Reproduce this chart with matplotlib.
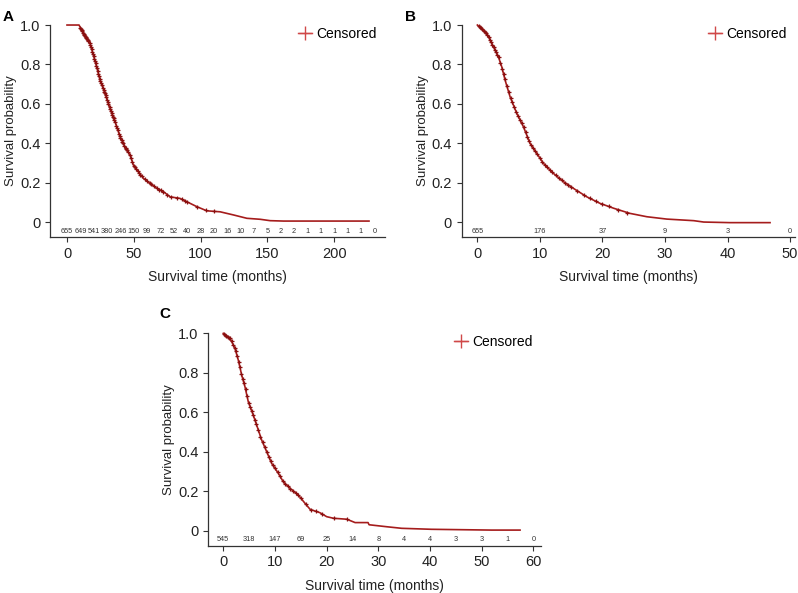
import numpy as np
import matplotlib
matplotlib.use("Agg")
import matplotlib.pyplot as plt
from matplotlib.lines import Line2D

plt.rcParams['font.family'] = ['Liberation Sans', 'DejaVu Sans']

RED = '#a51c1c'

# ---- panel A (curve knots) ----
a_time = [0, 9, 12.2, 17.2, 19.7, 22.2, 24.7, 28.5, 30.9, 33.5, 36, 39.7, 43.4, 47.2, 49.7,
          53.4, 57.2, 62.2, 67.2, 72.2, 77.2, 84.6, 89.7, 97.2, 104.6, 114.6, 124.6, 134.6,
          144.6, 152, 162, 226]
a_surv = [1.0, 1.0, 0.958, 0.907, 0.848, 0.788, 0.721, 0.653, 0.603, 0.552, 0.509, 0.433,
          0.382, 0.340, 0.289, 0.255, 0.222, 0.196, 0.171, 0.154, 0.128, 0.120, 0.103, 0.078,
          0.057, 0.052, 0.036, 0.019, 0.014, 0.007, 0.005, 0.005]
a_cens = [10, 10.5, 11, 11.5, 12, 12.5, 13, 13.5, 14, 14.5, 15, 15.5, 16, 17, 17.5, 18, 18.5,
          19, 19.5, 20, 20.5, 21, 21.5, 22, 22.5, 23, 23.5, 24, 24.5, 25, 25.5, 26, 27, 27.5,
          28, 28.5, 29, 29.5, 30, 30.5, 31, 32, 32.5, 33, 33.5, 34, 34.5, 35, 35.5, 36, 37,
          37.5, 38, 39, 39.5, 40, 41, 41.5, 42, 43, 44, 44.5, 45, 46, 47, 48, 49, 50, 51, 52,
          53, 54, 55, 56, 58, 60, 62, 63, 65, 67, 69, 70, 72, 75, 78, 82, 86, 88, 90, 97,
          104, 110]
a_risk_t = list(range(0, 240, 10))
a_risk_n = [655, 649, 541, 380, 246, 150, 99, 72, 52, 40, 28, 20, 16, 10, 7, 5, 2, 2, 1, 1, 1, 1, 1, 0]

# ---- panel B ----
b_time = [0, 1.5, 2.56, 3.36, 3.9, 4.43, 5.23, 6.3, 7.36, 8.43, 9.5, 10.56, 12.16, 13.76,
          15.36, 17.5, 19.6, 21.8, 24.4, 27.1, 30.3, 34.6, 36.2, 40.4, 46.8]
b_surv = [1.0, 0.958, 0.890, 0.839, 0.788, 0.721, 0.636, 0.552, 0.484, 0.399, 0.349, 0.298,
          0.247, 0.205, 0.171, 0.128, 0.095, 0.070, 0.044, 0.027, 0.015, 0.007, 0.0, -0.003, -0.003]
b_cens = [0.2, 0.4, 0.6, 0.8, 1.0, 1.2, 1.4, 1.6, 1.8, 2.0, 2.2, 2.4, 2.6, 2.8, 3.0, 3.2, 3.4,
          3.7, 4.0, 4.2, 4.4, 4.7, 5.0, 5.3, 5.6, 5.9, 6.2, 6.5, 6.8, 7.1, 7.4, 7.7, 8.0, 8.3,
          8.6, 8.9, 9.2, 9.6, 10, 10.4, 10.8, 11.2, 11.6, 12, 12.5, 13, 13.5, 14, 14.5, 15,
          16, 17, 18, 19, 20, 21, 22.5, 24]
b_risk_t = [0, 10, 20, 30, 40, 50]
b_risk_n = [655, 176, 37, 9, 3, 0]

# ---- panel C ----
c_time = [0, 1.3, 2.26, 2.9, 3.56, 4.2, 4.84, 5.8, 6.46, 7.43, 8.4, 9.36, 10.64, 11.6, 12.9,
          14.5, 15.8, 16.8, 18.7, 20, 21.3, 23.9, 25.5, 28, 28.2, 31.6, 34.5, 40.3, 51.9, 57.4]
c_surv = [1.0, 0.975, 0.924, 0.865, 0.789, 0.729, 0.653, 0.586, 0.535, 0.459, 0.400, 0.341,
          0.291, 0.248, 0.215, 0.181, 0.139, 0.108, 0.091, 0.071, 0.063, 0.058, 0.041, 0.041,
          0.030, 0.020, 0.012, 0.007, 0.003, 0.003]
c_cens = [0.2, 0.4, 0.6, 0.9, 1.1, 1.3, 1.6, 1.9, 2.2, 2.4, 2.7, 3.0, 3.2, 3.5, 3.8, 4.0, 4.3,
          4.6, 4.9, 5.2, 5.5, 5.8, 6.1, 6.4, 6.8, 7.2, 7.6, 8.0, 8.4, 8.8, 9.2, 9.6, 10, 10.5,
          11, 11.5, 12, 12.5, 13, 13.5, 14, 14.5, 15, 16, 17, 18, 19, 21.5, 24]
c_risk_t = list(range(0, 65, 5))
c_risk_n = [545, 318, 147, 69, 25, 14, 8, 4, 4, 3, 3, 1, 0]


def km_panel(ax, t, s, cens, risk_t, risk_n, xlim, xticks, risk_y=-0.046):
    ax.plot(t, s, color=RED, lw=1.2, clip_on=False)
    cy = np.interp(cens, t, s)
    ax.plot(cens, cy, ls='none', marker='+', ms=3.5, mew=0.9, color='#8a0f0f', clip_on=False)
    for xx, n in zip(risk_t, risk_n):
        ax.text(xx, risk_y, str(n), ha='center', va='center', fontsize=5.3, color='#333333')
    ax.set_xlim(*xlim)
    ax.set_ylim(-0.076, 1.0)
    ax.set_xticks(xticks)
    ax.set_yticks([0, 0.2, 0.4, 0.6, 0.8, 1.0])
    ax.set_yticklabels(['0', '0.2', '0.4', '0.6', '0.8', '1.0'])
    for sp in ['top', 'right']:
        ax.spines[sp].set_visible(False)
    for sp in ['left', 'bottom']:
        ax.spines[sp].set_color('#333333')
        ax.spines[sp].set_linewidth(0.9)
    ax.tick_params(direction='out', length=3.5, width=0.8, colors='#333333',
                   labelsize=10.5, labelcolor='#222222')
    ax.set_xlabel('Survival time (months)', fontsize=10, color='#222222', labelpad=7)
    ax.set_ylabel('Survival probability', fontsize=9.5, color='#222222', labelpad=2)
    h = Line2D([], [], color='#d04848', lw=1.0, marker='+', ms=10, mew=1.0)
    ax.legend([h], ['Censored'], loc='upper right', frameon=False, fontsize=10,
              handlelength=1.0, handletextpad=0.3, borderaxespad=0.2,
              bbox_to_anchor=(1.0, 1.03))


fig = plt.figure(figsize=(7.98, 5.93), dpi=100)
axA = fig.add_axes([0.0627, 0.6003, 0.4198, 0.3575])
axB = fig.add_axes([0.5786, 0.6003, 0.4177, 0.3575])
axC = fig.add_axes([0.2610, 0.0798, 0.4166, 0.3581])

km_panel(axA, a_time, a_surv, a_cens, a_risk_t, a_risk_n, (-12.7, 238), [0, 50, 100, 150, 200])
km_panel(axB, b_time, b_surv, b_cens, b_risk_t, b_risk_n, (-2.5, 50.8), [0, 10, 20, 30, 40, 50])
km_panel(axC, c_time, c_surv, c_cens, c_risk_t, c_risk_n, (-2.9, 61.4), [0, 10, 20, 30, 40, 50, 60])

fig.text(0.003, 0.972, 'A', fontsize=11, fontweight='bold', va='center')
fig.text(0.507, 0.972, 'B', fontsize=11, fontweight='bold', va='center')
fig.text(0.200, 0.470, 'C', fontsize=11, fontweight='bold', va='center')

fig.savefig('out.png', dpi=100)
